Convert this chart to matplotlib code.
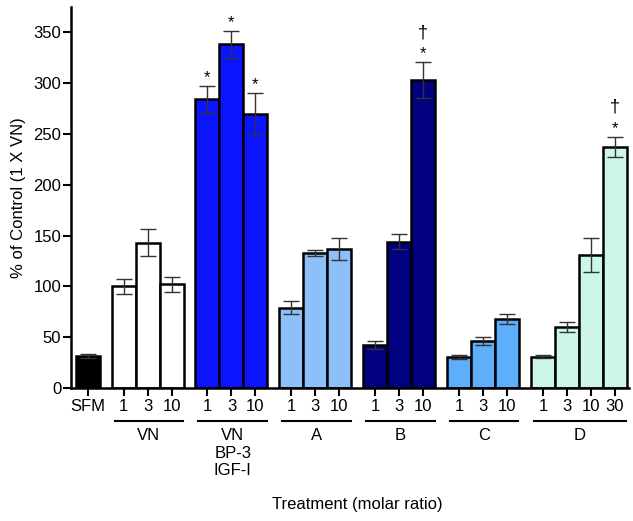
import numpy as np
import matplotlib
matplotlib.use("Agg")
import matplotlib.pyplot as plt

plt.rcParams['font.family'] = ['Liberation Sans', 'DejaVu Sans']

# datos
grupos = ['', 'VN', 'VN\nBP-3\nIGF-I', 'A', 'B', 'C', 'D']
etiquetas = [['SFM'], ['1', '3', '10'], ['1', '3', '10'], ['1', '3', '10'],
             ['1', '3', '10'], ['1', '3', '10'], ['1', '3', '10', '30']]
valores = [[32], [100, 143, 102], [284, 338, 270], [79, 133, 137],
           [42, 144, 303], [31, 46, 68], [31, 60, 131, 237]]
errores = [[2], [7, 13.5, 7.5], [13, 13, 20], [6.5, 3, 11],
           [4, 7.5, 17.5], [2, 4, 4.5], [1.5, 5, 16.5, 10]]
colores = ['#000000', '#FFFFFF', '#0A14FF', '#8DC0F8', '#000080', '#5FAEFA', '#CCF7E6']
# marcas de significancia: (grupo, indice)
marcas = [(2, 0), (2, 1), (2, 2), (4, 2), (6, 3)]
cruces = [(4, 2), (6, 3)]

fig = plt.figure(figsize=(6.33, 5.21), dpi=100)
ax = fig.add_axes([0.112, 0.255, 0.882, 0.732])

pos = 0.0
centros = []
ticks = []
tick_lab = []
for g in range(len(valores)):
    n = len(valores[g])
    xs = pos + np.arange(n)
    centros.append(xs)
    ax.bar(xs, valores[g], width=1.0, color=colores[g], edgecolor='black',
           linewidth=1.8, zorder=2)
    ax.errorbar(xs, valores[g], yerr=errores[g], fmt='none', ecolor='#333333',
                elinewidth=1.0, capsize=6, capthick=1.0, zorder=3)
    ticks += list(xs)
    tick_lab += etiquetas[g]
    if grupos[g]:
        ax.plot([xs[0] - 0.38, xs[-1] + 0.48], [-0.086, -0.086], color='black',
                linewidth=1.5, transform=ax.get_xaxis_transform(), clip_on=False)
        ax.text((xs[0] + xs[-1]) / 2 + 0.05, -0.105, grupos[g], ha='center', va='top',
                fontsize=12, transform=ax.get_xaxis_transform())
    pos = xs[-1] + 1.5

for g, i in marcas:
    y = valores[g][i] + errores[g][i]
    ax.text(centros[g][i], y + 8, '*', ha='center', va='center', fontsize=12)
for g, i in cruces:
    y = valores[g][i] + errores[g][i]
    ax.text(centros[g][i], y + 29, '†', ha='center', va='center', fontsize=13)

ax.set_xlim(-0.7, 22.6)
ax.set_ylim(0, 375)
ax.set_yticks(np.arange(0, 351, 50))
ax.set_xticks(ticks)
ax.set_xticklabels(tick_lab)
ax.tick_params(axis='both', labelsize=12, length=6, width=1.5, direction='out')
ax.tick_params(axis='x', pad=2)
ax.tick_params(axis='y', pad=1)
ax.spines['top'].set_visible(False)
ax.spines['right'].set_visible(False)
ax.spines['left'].set_linewidth(1.8)
ax.spines['bottom'].set_linewidth(1.8)

ax.set_ylabel('% of Control (1 X VN)', fontsize=12)
ax.yaxis.set_label_coords(-0.08, 0.5)
ax.set_xlabel('Treatment (molar ratio)', fontsize=12)
ax.xaxis.set_label_coords(0.513, -0.305)
ax.xaxis.label.set_va('center')

plt.savefig('out.png', dpi=100)
